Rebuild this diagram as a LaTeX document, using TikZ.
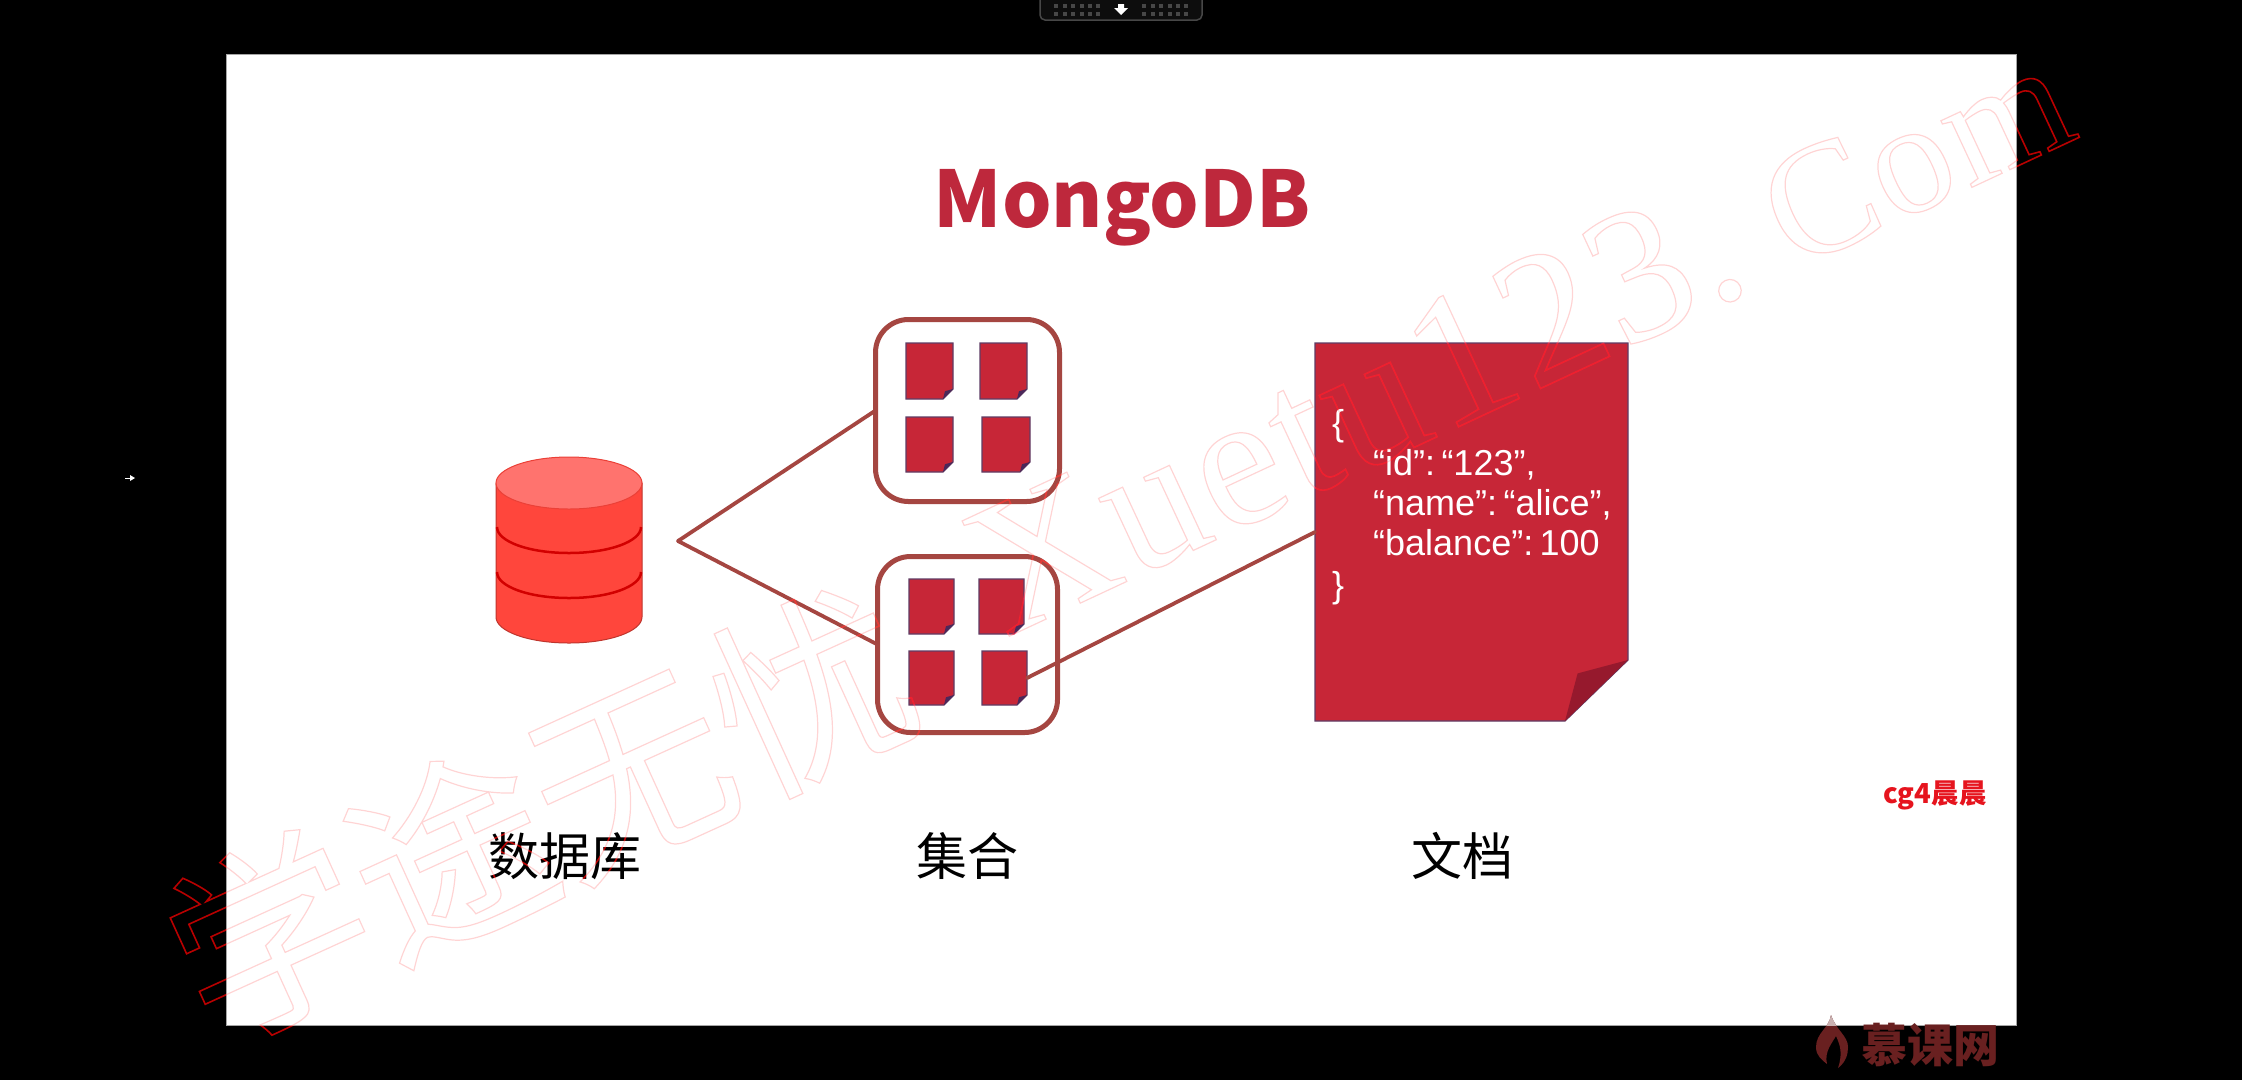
\documentclass[tikz,border=0pt]{standalone}
\usepackage{fontspec}
\setmainfont{Liberation Sans}
\newfontfamily\cjk{Noto Sans CJK SC}
\newfontfamily\wmlatin[LetterSpace=2,WordSpace=0.5]{Liberation Serif}
\newfontfamily\jsonfont[WordSpace=0.3]{Liberation Sans}
\definecolor{paper}{RGB}{199,38,55}
\definecolor{paperedge}{RGB}{95,60,100}
\definecolor{fold}{RGB}{150,25,45}
\definecolor{smallfold}{RGB}{75,40,90}
\definecolor{conn}{RGB}{165,70,65}
\definecolor{title}{RGB}{190,40,60}
\definecolor{dbbody}{RGB}{255,70,60}
\definecolor{dbtop}{RGB}{255,115,110}
\definecolor{dbline}{RGB}{210,0,0}
\definecolor{logo}{RGB}{105,32,32}
\definecolor{edgegray}{RGB}{165,165,165}
\tikzset{
  sheet/.style={rectangle,inner sep=0pt,outer sep=0pt,draw=none},
  collection/.style={rectangle,rounded corners=33pt,draw=conn,line width=5pt,fill=white,inner sep=0pt,outer sep=0pt},
  link/.style={draw=conn,line width=3.8pt,line cap=round,line join=round},
  label/.style={inner sep=0pt,font=\cjk\fontsize{51}{51}\selectfont,text=black},
  json/.style={inner sep=0pt,anchor=base west,text=white,font=\jsonfont\fontsize{36}{36}\selectfont},
  dot/.style={fill=black!72,draw=none},
}
% name, corners x1 y1 x2 y2, fold size x, fold size y, fold colour
\newcommand\paperdoc[8]{%
  \node[sheet,minimum width={#4-#2},minimum height={#5-#3}] (#1) at ({(#2+#4)/2},{(#3+#5)/2}) {};
  \fill[paper,draw=paperedge,line width=1.2pt,line join=miter]
    (#2,#3) -- (#4,#3) -- (#4,#5-#7) -- (#4-#6,#5) -- (#2,#5) -- cycle;
  \fill[#8] (#4,#5-#7) -- (#4-0.8*#6,#5-0.78*#7) -- (#4-#6,#5) -- cycle;
}
\newcommand\wmstroke[3]{\special{pdf:code 1 Tr #1 w #2 RG}#3\special{pdf:code 0 Tr}}
% name prefix, stroke width, stroke colour
\newcommand\wmlayer[3]{%
  \node[inner sep=0pt,anchor=base west,rotate=24.5,font=\fontsize{198}{198}\selectfont] (#1a) at (211,1046) {\wmstroke{#2}{#3}{\cjk 学途无忧}};
  \node[inner sep=0pt,anchor=base east,rotate=25,font=\fontsize{190}{190}\selectfont] (#1b) at (2082,136) {\wmstroke{#2}{#3}{\wmlatin Xuetu123. \fontsize{160}{160}\selectfont Com}};
}
\begin{document}
\begin{tikzpicture}[x=1pt,y=-1pt]
\useasboundingbox (0,0) rectangle (2242,1080);
\fill[black] (0,0) rectangle (2242,1080);
% toolbar
\draw[black!72,line width=1.5pt,fill=black!95] (1040,-4) -- (1040,15) arc[start angle=180,end angle=270,radius=5pt] -- (1197,20) arc[start angle=270,end angle=360,radius=5pt] -- (1202,-4);
\foreach \x in {1056,1064.5,1073,1081.5,1090,1098,1144,1152.5,1161,1169.5,1178,1186}
  \foreach \y in {6,14} \fill[dot] (\x-2,\y-2) rectangle (\x+2,\y+2);
\fill[white] (1118,4) -- (1124,4) -- (1124,8) -- (1128,8) -- (1121,15) -- (1114,8) -- (1118,8) -- cycle;
% cursor
\draw[white,line width=1pt] (125,478) -- (134,478);
\fill[white] (135,478) -- (130,475) -- (130,481) -- cycle;
% slide
\fill[white,draw=edgegray,line width=1pt] (226,54) rectangle (2016,1025);
% logo
\fill[logo] (1831,1015) .. controls (1829,1028) and (1816,1033) .. (1816,1047) .. controls (1816,1056) and (1822,1060) .. (1827,1064) .. controls (1824,1052) and (1832,1043) .. (1836,1036) .. controls (1840,1045) and (1843,1053) .. (1838,1068) .. controls (1846,1062) and (1848,1054) .. (1848,1047) .. controls (1848,1036) and (1836,1030) .. (1831,1015) -- cycle;
\begin{scope}
  \clip (226,54) rectangle (2016,1025);
  \fill[logo!35!white] (1831,1015) .. controls (1829,1028) and (1816,1033) .. (1816,1047) -- (1848,1047) .. controls (1848,1036) and (1836,1030) .. (1831,1015) -- cycle;
\end{scope}
\node[inner sep=0pt,text=logo,font=\cjk\bfseries\fontsize{46}{46}\selectfont] (logotext) at (1930,1045) {慕课网};
% title
\node[inner sep=0pt,text=title,font=\cjk\bfseries\fontsize{78}{78}\selectfont] (ttl) at (1122,208) {MongoDB};
% database
\node[sheet,minimum width=146pt,minimum height=186pt] (db) at (569,550) {};
\fill[dbbody,draw=dbbody!75!black,line width=1pt] (496,483) -- (496,617) .. controls (496,631.4) and (528.7,643) .. (569,643) .. controls (609.3,643) and (642,631.4) .. (642,617) -- (642,483) -- cycle;
\fill[dbtop,draw=dbbody!92!black,line width=1pt] (569,483) ellipse [x radius=73pt,y radius=26pt];
\foreach \c in {527,572}
  \draw[dbline,line width=2.5pt] (497,\c) .. controls (497,\c+14.4) and (528.7,\c+26) .. (569,\c+26) .. controls (609.3,\c+26) and (641,\c+14.4) .. (641,\c);
% collections
\node[collection,minimum width=184pt,minimum height=182pt] (box1) at (967.5,410.5) {};
\node[collection,minimum width=180pt,minimum height=176pt] (box2) at (967.5,644.5) {};
\paperdoc{a}{906}{343}{953}{399}{10}{10}{smallfold}
\paperdoc{b}{980}{343}{1027}{399}{10}{10}{smallfold}
\paperdoc{c}{906}{417}{953}{472}{10}{10}{smallfold}
\paperdoc{d}{982}{417}{1030}{472}{10}{10}{smallfold}
\paperdoc{e}{909}{579}{954}{634}{10}{10}{smallfold}
\paperdoc{f}{979}{579}{1024}{634}{10}{10}{smallfold}
\paperdoc{g}{909}{651}{954}{705}{10}{10}{smallfold}
\paperdoc{h}{982}{651}{1027}{705}{10}{10}{smallfold}
% big document
\paperdoc{big}{1315}{343}{1628}{721}{63}{61}{fold}
% connectors
\coordinate (apex) at (678,541);
\draw[link] (box1.west) -- (apex) -- (box2.west);
\draw[link] (h.east) -- (big.west);
% json
\node[json] (j1) at (1332,435) {\{};
\node[json] (j2) at (1373,475) {“id”: “123”,};
\node[json] (j3) at (1373,515) {“name”: “alice”,};
\node[json] (j4) at (1373,555) {“balance”: 100};
\node[json] (j5) at (1332,597) {\}};
% labels
\node[label] (l1) at (565,856) {数据库};
\node[label] (l2) at (967,856) {集合};
\node[label] (l3) at (1462,856) {文档};
\node[inner sep=0pt,text={rgb,255:red,230;green,20;blue,30},font=\cjk\bfseries\fontsize{27.5}{27.5}\selectfont] (author) at (1935,795) {cg4晨晨};
% watermark
\begin{scope}[blend mode=screen]
  \wmlayer{wm}{1.6}{0.67 0 0}
\end{scope}
\begin{scope}[opacity=0.17]
  \wmlayer{wn}{1.2}{1 0 0}
\end{scope}
\end{tikzpicture}
\end{document}
